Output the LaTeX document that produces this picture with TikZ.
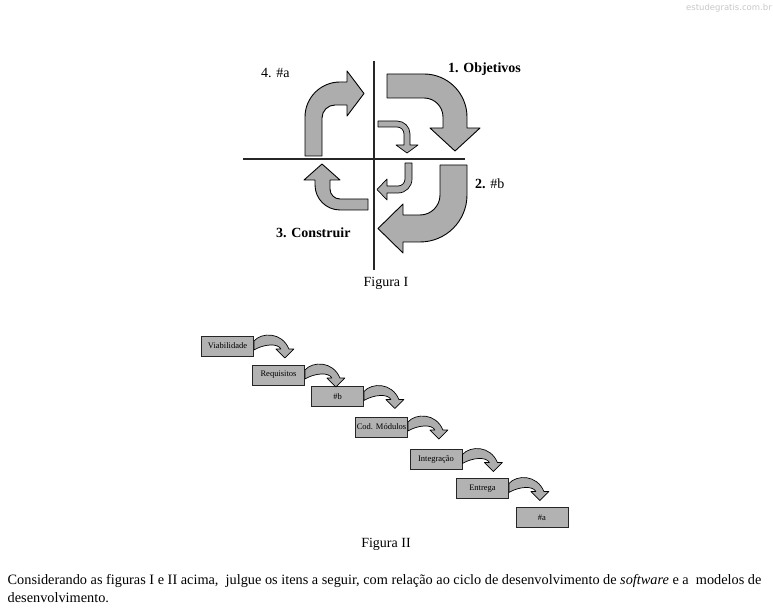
\documentclass[tikz,border=0pt]{standalone}
\usepackage{fontspec}
\setmainfont{Liberation Serif}
\newfontfamily\marcafont{DejaVu Sans}

\begin{document}
\begin{tikzpicture}[x=1pt,y=1pt,
    seta/.style={fill=black!32,draw=black,line width=0.9pt,line join=round},
    eixo/.style={draw=black!85,line width=1.2pt},
    rotulo/.style={anchor=base west,inner sep=0pt,font=\fontsize{14}{16}\selectfont},
    etapa/.style={rectangle,fill=gray!60,draw=black!85,line width=0.8pt,minimum width=52pt,minimum height=20pt,inner sep=0pt,font=\fontsize{8.5}{10}\selectfont},
    curva/.pic={\path[seta,line width=0.7pt] (0,5) .. controls (8,14) and (28,14) .. (35,-3) -- (40,-3) -- (31,-12) -- (22,-3) -- (27,-3) .. controls (24,3) and (10,2) .. (0,-4) -- cycle;}]
    \useasboundingbox (0,0) rectangle (773,-612);
    \node[anchor=base east,inner sep=0pt,text=black!22,font=\marcafont\fontsize{8.5}{10}\selectfont] (marca) at (772,-11) {estudegratis.com.br};

    \draw[eixo] (374,-61) -- (374,-270);
    \draw[eixo] (243,-159) -- (465,-159);
    \path[seta] (387,-74) -- (424,-74) arc[start angle=90,end angle=0,radius=43] -- (467,-128) -- (480,-128) -- (455,-151) -- (430,-128) -- (443,-128) -- (443,-117) arc[start angle=0,end angle=90,radius=19] -- (387,-98) -- cycle;
    \path[seta] (440,-165) -- (467,-165) -- (467,-195) arc[start angle=0,end angle=-90,radius=47] -- (403,-242) -- (403,-253) -- (378,-228.5) -- (403,-204) -- (403,-215) -- (420,-215) arc[start angle=-90,end angle=0,radius=20] -- cycle;
    \path[seta] (368,-199) -- (368,-210) -- (340,-210) arc[start angle=270,end angle=180,radius=25] -- (315,-180) -- (304,-180) -- (322,-164) -- (340,-180) -- (330,-180) -- (330,-189) arc[start angle=180,end angle=270,radius=10] -- cycle;
    \path[seta] (305,-156) -- (305,-117) arc[start angle=180,end angle=90,radius=35] -- (347,-82) -- (347,-71) -- (364,-93.5) -- (347,-116) -- (347,-105) -- (335,-105) arc[start angle=90,end angle=180,radius=13] -- (322,-156) -- cycle;
    \path[seta,line width=0.7pt] (378,-121) -- (397,-121) arc[start angle=90,end angle=0,radius=13] -- (410,-145) -- (418,-145) -- (407,-153) -- (396,-145) -- (404,-145) -- (404,-134) arc[start angle=0,end angle=90,radius=7] -- (378,-127) -- cycle;
    \path[seta,line width=0.7pt] (405,-163) -- (412,-163) -- (412,-179) arc[start angle=0,end angle=-90,radius=14] -- (387,-193) -- (387,-200) -- (377,-189.5) -- (387,-179) -- (387,-186) -- (398,-186) arc[start angle=-90,end angle=0,radius=7] -- cycle;

    \node[rotulo] (obj) at (448,-73) {\textbf{1. Objetivos}};
    \node[rotulo] (qa) at (261,-77.5) {4. \#a};
    \node[rotulo] (qb) at (475,-188.5) {\textbf{2.} \#b};
    \node[rotulo] (constr) at (276,-237) {\textbf{3. Construir}};
    \node[rotulo,anchor=base] (fig1) at (386,-286) {Figura I};

    \node[etapa] (viab) at (227.5,-346) {Viabilidade};
    \node[etapa] (req) at (278.5,-375) {Requisitos};
    \node[etapa] (hb) at (337.5,-396.5) {\#b};
    \node[etapa] (cod) at (381.5,-427) {Cod. Módulos};
    \node[etapa] (integ) at (436,-459.5) {Integração};
    \node[etapa] (entr) at (482.5,-488.5) {Entrega};
    \node[etapa] (ha) at (542,-517.5) {\#a};
    \foreach \caixa in {viab,req,hb,cod,integ,entr}
        \pic at (\caixa.east) {curva};
    \node[rotulo,anchor=base] (fig2) at (386,-547) {Figura II};

    \node[rotulo,font=\fontsize{14.3}{18}\selectfont] (linha1) at (7.5,-584.3) {Considerando as figuras I e II acima, \ julgue os itens a seguir, com relação ao ciclo de desenvolvimento de \textit{software} e a \ modelos de};
    \node[rotulo,font=\fontsize{14.3}{18}\selectfont] (linha2) at (7.5,-602.7) {desenvolvimento.};
\end{tikzpicture}
\end{document}
